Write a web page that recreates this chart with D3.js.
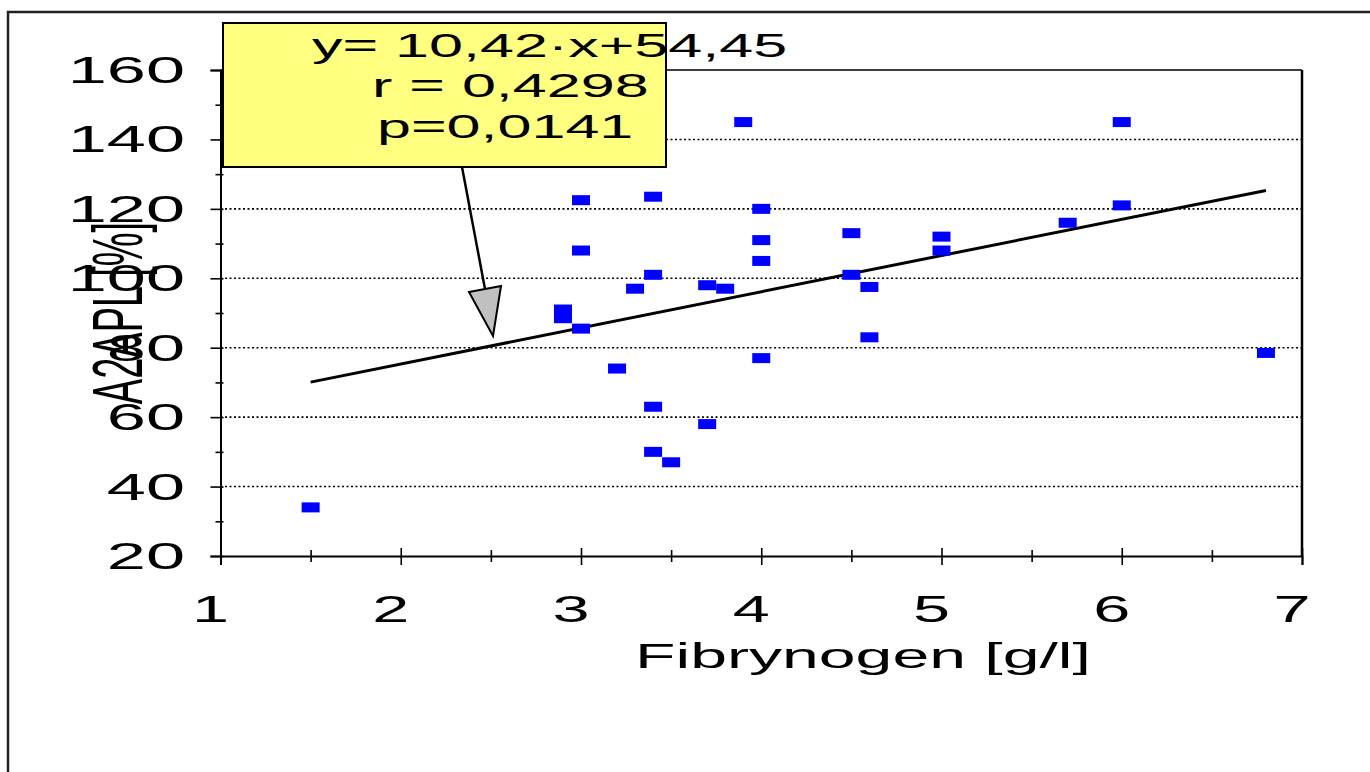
<!DOCTYPE html>
<html>
<head>
<meta charset="utf-8">
<script src="https://d3js.org/d3.v7.min.js"></script>
<style>
  body { margin: 0; background: #fff; }
  text { font-family: "Liberation Sans", Arial, sans-serif; fill: #000; }
</style>
</head>
<body>
<div id="chart"></div>
<script>
// data
var fibX = [1.5, 2.9, 2.9, 3, 3, 3, 3.2, 3.3, 3.4, 3.4, 3.4, 3.4, 3.5, 3.7, 3.7, 3.8, 3.9,
            4, 4, 4, 4, 4.5, 4.5, 4.6, 4.6, 5, 5, 5.7, 6, 6, 6.8];
var a2aplY = [34, 91, 88.5, 122.5, 108, 85.5, 74, 97, 123.5, 101, 63, 50, 47, 98, 58, 97, 145,
              120, 111, 105, 77, 113, 101, 97.5, 83, 112, 108, 116, 145, 121, 78.5];

// regression line end points (y = 10,42x + 54,45)
var trendX = [1.5, 6.8];
var trendY = [70.08, 125.31];

var xTicks = [1, 2, 3, 4, 5, 6, 7];
var xMinor = [1.5, 2.5, 3.5, 4.5, 5.5, 6.5];
var yTicks = [20, 40, 60, 80, 100, 120, 140, 160];
var yMinor = [30, 50, 70, 90, 110, 130, 150];
var gridVals = [40, 60, 80, 100, 120, 140];

var noteLines = ["y= 10,42\u00b7x+54,45", "r = 0,4298", "p=0,0141"];

var W = 1370, H = 772;
var stretch = 1.85; // the picture is stretched sideways, text too

var svg = d3.select("#chart").append("svg")
    .attr("width", W)
    .attr("height", H);

// outer frame
svg.append("rect")
    .attr("x", 8).attr("y", 12)
    .attr("width", W + 20).attr("height", H + 20)
    .attr("fill", "none")
    .attr("stroke", "#222")
    .attr("stroke-width", 2.5);

var x = d3.scaleLinear().domain([1, 7]).range([220.5, 1302]);
var y = d3.scaleLinear().domain([20, 160]).range([556, 70]);

// dotted grid
svg.append("g").selectAll("line")
    .data(gridVals)
    .enter().append("line")
    .attr("x1", x(1)).attr("x2", x(7))
    .attr("y1", function (d) { return y(d); })
    .attr("y2", function (d) { return y(d); })
    .attr("stroke", "#000")
    .attr("stroke-width", 1.6)
    .attr("stroke-dasharray", "2,2.5");

// plot border top + right
svg.append("line")
    .attr("x1", x(1)).attr("x2", x(7))
    .attr("y1", y(160)).attr("y2", y(160))
    .attr("stroke", "#000").attr("stroke-width", 1.5);
svg.append("line")
    .attr("x1", x(7)).attr("x2", x(7))
    .attr("y1", y(160)).attr("y2", y(20))
    .attr("stroke", "#000").attr("stroke-width", 2.5);

// x axis, major + minor ticks
var xAxis = svg.append("g")
    .attr("transform", "translate(0," + y(20) + ")")
    .call(d3.axisBottom(x).tickValues(xTicks).tickSize(9).tickFormat(""));
xAxis.selectAll(".tick line").attr("y1", -8);
svg.append("g")
    .attr("transform", "translate(0," + y(20) + ")")
    .call(d3.axisBottom(x).tickValues(xMinor).tickSize(6).tickFormat(""))
    .call(function (g) { g.select(".domain").remove(); })
    .selectAll(".tick line").attr("y1", -6);

// y axis, major + minor ticks
var yAxis = svg.append("g")
    .attr("transform", "translate(" + x(1) + ",0)")
    .call(d3.axisLeft(y).tickValues(yTicks).tickSize(10).tickFormat(""));
yAxis.selectAll(".tick line").attr("x1", 3);
svg.append("g")
    .attr("transform", "translate(" + x(1) + ",0)")
    .call(d3.axisLeft(y).tickValues(yMinor).tickSize(5).tickFormat(""))
    .call(function (g) { g.select(".domain").remove(); })
    .selectAll(".tick line").attr("x1", 3);

svg.selectAll(".domain").attr("stroke", "#000").attr("stroke-width", 2);
svg.selectAll(".tick line").attr("stroke", "#000").attr("stroke-width", 1.6);

// tick labels
svg.append("g").selectAll("text")
    .data(xTicks)
    .enter().append("text")
    .attr("transform", function (d) { return "translate(" + (x(d) - 10) + ",622) scale(" + stretch + ",1)"; })
    .attr("text-anchor", "middle")
    .attr("font-size", 36)
    .text(function (d) { return d; });

svg.append("g").selectAll("text")
    .data(yTicks)
    .enter().append("text")
    .attr("transform", function (d) { return "translate(185," + (y(d) + 13) + ") scale(1.9,1)"; })
    .attr("text-anchor", "end")
    .attr("font-size", 37)
    .text(function (d) { return d; });

// axis titles
svg.append("text")
    .attr("transform", "translate(863,668) scale(1.89,1)")
    .attr("text-anchor", "middle")
    .attr("font-size", 35)
    .text("Fibrynogen [g/l]");

svg.append("text")
    .attr("transform", "translate(142,313) rotate(-90) scale(1," + stretch + ")")
    .attr("text-anchor", "middle")
    .attr("font-size", 38)
    .text("A2APL [%]");

// trend line
var line = d3.line()
    .x(function (d) { return x(d[0]); })
    .y(function (d) { return y(d[1]); });
svg.append("path")
    .datum(d3.zip(trendX, trendY))
    .attr("d", line)
    .attr("fill", "none")
    .attr("stroke", "#000")
    .attr("stroke-width", 3);

// points
svg.append("g").selectAll("rect")
    .data(d3.zip(fibX, a2aplY))
    .enter().append("rect")
    .attr("x", function (d) { return x(d[0]) - 9; })
    .attr("y", function (d) { return y(d[1]) - 5; })
    .attr("width", 18)
    .attr("height", 10)
    .attr("fill", "#0000ff");

// callout with arrow
svg.append("line")
    .attr("x1", 462).attr("y1", 167)
    .attr("x2", 485).attr("y2", 289)
    .attr("stroke", "#000").attr("stroke-width", 2.5);
svg.append("path")
    .attr("d", "M469,292 L501,286 L493,336 Z")
    .attr("fill", "#c0c0c0")
    .attr("stroke", "#000")
    .attr("stroke-width", 2);

svg.append("rect")
    .attr("x", 223).attr("y", 23)
    .attr("width", 443).attr("height", 144)
    .attr("fill", "#ffff80")
    .attr("stroke", "#000")
    .attr("stroke-width", 2);

var noteX = [312, 372, 377];
var noteY = [57, 97, 138];
svg.append("g").selectAll("text")
    .data(noteLines)
    .enter().append("text")
    .attr("transform", function (d, i) { return "translate(" + noteX[i] + "," + noteY[i] + ") scale(" + stretch + ",1)"; })
    .attr("font-size", 33)
    .text(function (d) { return d; });
</script>
</body>
</html>
